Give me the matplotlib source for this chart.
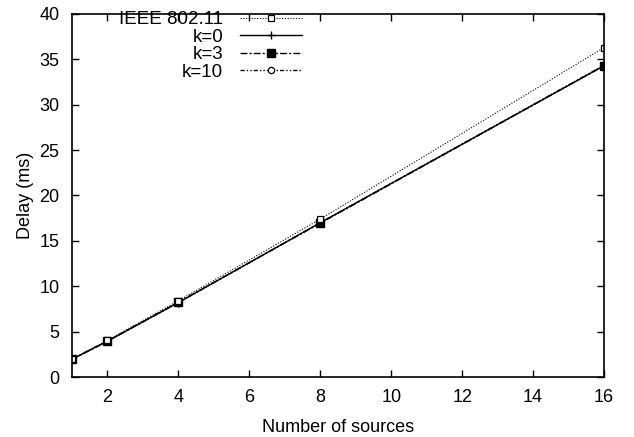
import matplotlib
matplotlib.use("Agg")
import matplotlib.pyplot as plt
from matplotlib.lines import Line2D

plt.rcParams['font.family'] = ['Liberation Sans', 'DejaVu Sans']

sources = [1, 2, 4, 8, 16]
ieee = [2.0, 4.05, 8.4, 17.4, 36.3]
ieee_err = [0.05, 0.1, 0.15, 0.3, 0.95]
k0 = [1.95, 3.95, 8.2, 17.0, 34.3]
k3 = [1.95, 3.95, 8.25, 16.95, 34.3]
k10 = [1.95, 3.95, 8.2, 17.0, 34.35]

x_ticks = [2, 4, 6, 8, 10, 12, 14, 16]
y_ticks = [0, 5, 10, 15, 20, 25, 30, 35, 40]

fig = plt.figure(figsize=(6.34, 4.37), dpi=100)
ax = fig.add_axes([72/634, 60/437, 532/634, 363/437])

ieee_style = dict(color='black', lw=0.8, ls=(0, (1, 1.5)), marker='s',
                  mfc='white', mec='black', ms=5, mew=0.9)
ax.errorbar(sources, ieee, yerr=ieee_err, elinewidth=0.7, capsize=0,
            **ieee_style)
h_ieee = Line2D([], [], **ieee_style)
h_k0, = ax.plot(sources, k0, color='black', lw=1.0, ls='-', marker='+',
                ms=6, mew=1.0)
h_k10, = ax.plot(sources, k10, color='black', lw=1.0,
                 ls=(0, (3, 1.5, 1, 1.5, 1, 1.5)), marker='o', mfc='white',
                 mec='black', ms=4.5, mew=0.9)
h_k3, = ax.plot(sources, k3, color='black', lw=1.0, ls=(0, (5, 1.5, 1.5, 1.5)),
                marker='s', mfc='black', mec='black', ms=5.5)

ax.set_xlim(1, 16)
ax.set_ylim(0, 40)
ax.set_xticks(x_ticks)
ax.set_yticks(y_ticks)
ax.tick_params(direction='in', top=True, right=True, length=5,
               width=1.0, labelsize=13, pad=9)
for s in ax.spines.values():
    s.set_linewidth(1.2)

ax.set_xlabel('Number of sources', fontsize=13, labelpad=9)
ax.set_ylabel('Delay (ms)', fontsize=13, labelpad=4)

leg = ax.legend([h_ieee, h_k0, h_k3, h_k10],
                ['IEEE 802.11', 'k=0', 'k=3', 'k=10'],
                loc='upper right', bbox_to_anchor=(302/634, 426/437),
                bbox_transform=fig.transFigure,
                frameon=False, markerfirst=False, fontsize=13.5,
                handlelength=3.3, handletextpad=0.9, labelspacing=0.02,
                borderaxespad=0, borderpad=0)
# right-align the rows so labels sit flush against their line samples
for col in leg._legend_handle_box.get_children():
    col.align = 'right'

fig.savefig('out.png', dpi=100)
